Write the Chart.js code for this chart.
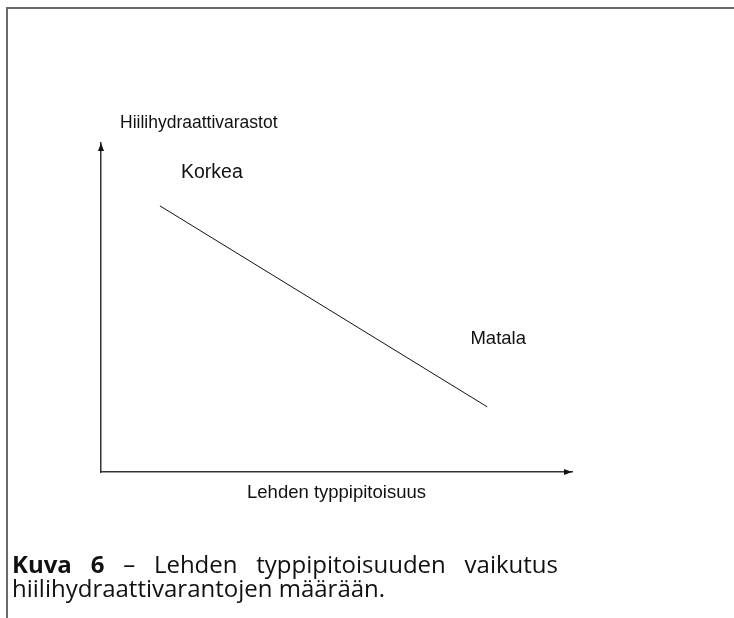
<!DOCTYPE html>
<html>
<head>
<meta charset="utf-8">
<script src="https://cdn.jsdelivr.net/npm/chart.js@4"></script>
<style>
  html, body { margin: 0; padding: 0; background: #fff; }
  body { width: 734px; height: 618px; position: relative; overflow: hidden; }
  #frame { position: absolute; left: 6px; top: 7px; width: 740px; height: 620px;
           border-top: 2px solid #6a6a6a; border-left: 2px solid #6a6a6a; }
  #wrap { position: absolute; left: 0; top: 0; width: 734px; height: 618px; }
  #caption { position: absolute; left: 12px; top: 552px; font-family: "Open Sans", Lato, sans-serif;
             font-size: 24px; line-height: 24px; color: #111; white-space: nowrap; }
  #caption .l1 { display: block; width: 546px; text-align: justify; text-align-last: justify; }
  #caption .l2 { display: block; }
  #caption b { font-weight: 700; }
</style>
</head>
<body>
<div id="frame"></div>
<div id="wrap"><canvas id="c" width="734" height="618"></canvas></div>
<div id="caption"><span class="l1"><b>Kuva 6</b> – Lehden typpipitoisuuden vaikutus</span><span class="l2">hiilihydraattivarantojen määrään.</span></div>
<script>
// ---- data ----
const xValues = [12.5, 82.0];          // leaf nitrogen content (relative)
const yValues = [80.9, 19.8];          // carbohydrate reserves (relative)
const pointLabels = ['Korkea', 'Matala'];
const xTitle = 'Lehden typpipitoisuus';
const yTitle = 'Hiilihydraattivarastot';
const axisMin = [0, 0];
const axisMax = [100, 100];

const family = '"Liberation Sans", Arial, sans-serif';

const annotate = {
  id: 'annotate',
  afterDraw(chart) {
    const ctx = chart.ctx;
    const xs = chart.scales.x, ys = chart.scales.y;
    const area = chart.chartArea;
    ctx.save();
    ctx.fillStyle = '#111';
    // arrowheads
    ctx.beginPath();
    ctx.moveTo(area.left, area.top);
    ctx.lineTo(area.left - 3, area.top + 8);
    ctx.lineTo(area.left + 3, area.top + 8);
    ctx.closePath();
    ctx.fill();
    ctx.beginPath();
    ctx.moveTo(area.right, area.bottom);
    ctx.lineTo(area.right - 8, area.bottom - 3);
    ctx.lineTo(area.right - 8, area.bottom + 3);
    ctx.closePath();
    ctx.fill();
    // y axis label (horizontal, above axis)
    ctx.font = '17.5px ' + family;
    ctx.textAlign = 'left';
    ctx.textBaseline = 'middle';
    ctx.fillText(yTitle, area.left + 19, area.top - 20);
    // end labels
    ctx.textAlign = 'center';
    const offs = [[52, -33], [11, -68]];
    const sizes = [19.5, 18.5];
    pointLabels.forEach((t, i) => {
      const px = xs.getPixelForValue(xValues[i]);
      const py = ys.getPixelForValue(yValues[i]);
      ctx.font = sizes[i] + 'px ' + family;
      ctx.fillText(t, px + offs[i][0], py + offs[i][1]);
    });
    ctx.restore();
  }
};

new Chart(document.getElementById('c'), {
  type: 'scatter',
  data: {
    datasets: [{
      data: xValues.map((x, i) => ({ x, y: yValues[i] })),
      showLine: true,
      borderColor: '#111',
      borderWidth: 1,
      pointRadius: 0,
      fill: false
    }]
  },
  options: {
    responsive: false,
    animation: false,
    events: [],
    layout: { padding: { left: 101, right: 162, top: 143, bottom: 113.8 } },
    plugins: { legend: { display: false }, tooltip: { enabled: false } },
    scales: {
      x: {
        type: 'linear', min: axisMin[0], max: axisMax[0],
        grid: { display: false, drawTicks: false },
        ticks: { display: false },
        border: { display: true, color: '#333', width: 1.5 },
        title: { display: true, text: xTitle, color: '#111',
                 font: { family: family, size: 18.5 },
                 padding: { top: 10, bottom: 0 } }
      },
      y: {
        type: 'linear', min: axisMin[1], max: axisMax[1],
        grid: { display: false, drawTicks: false },
        ticks: { display: false },
        border: { display: true, color: '#333', width: 1.5 }
      }
    }
  },
  plugins: [annotate]
});
</script>
</body>
</html>
